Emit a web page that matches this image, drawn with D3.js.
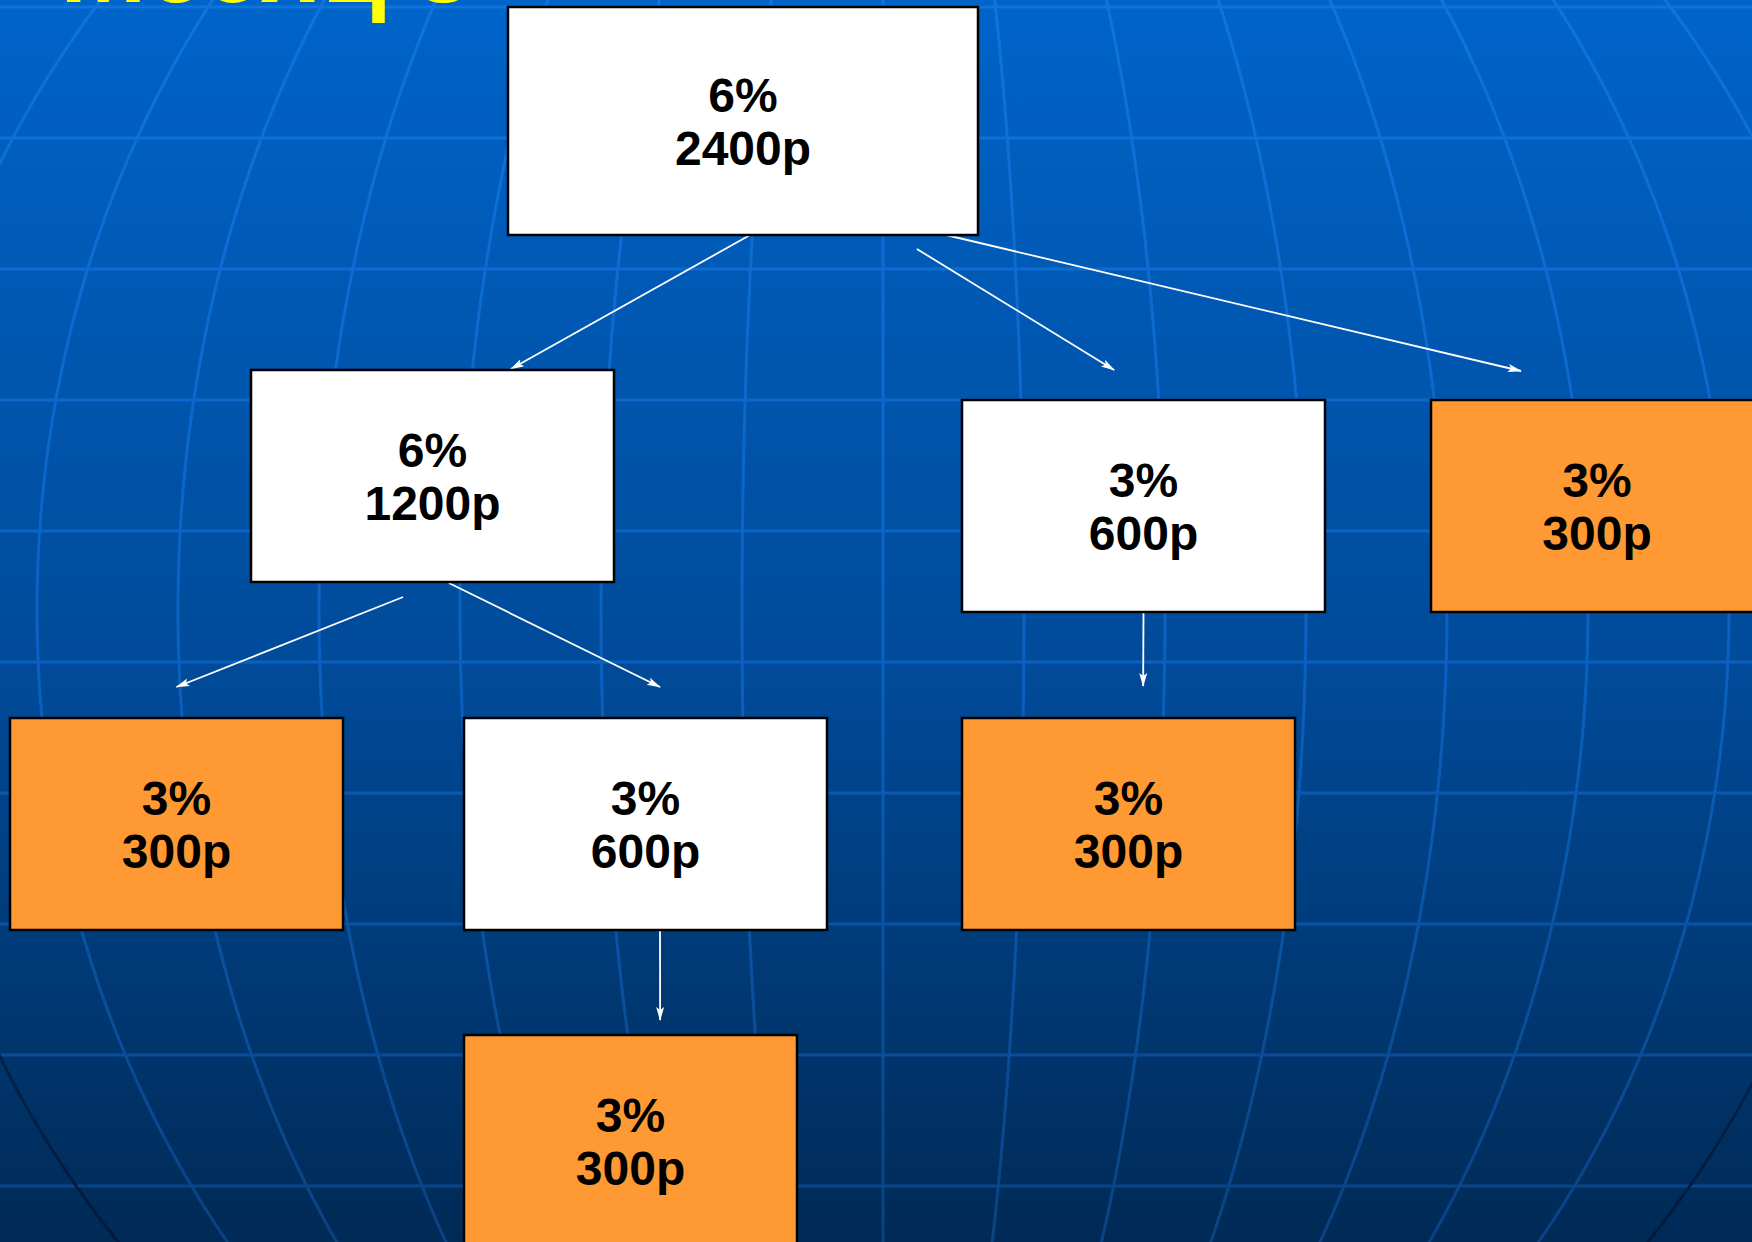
<!DOCTYPE html>
<html>
<head>
<meta charset="utf-8">
<script src="https://cdn.jsdelivr.net/npm/d3@7"></script>
<style>
  html, body { margin: 0; padding: 0; background: #003a78; overflow: hidden; }
  svg { display: block; }
</style>
</head>
<body>
<div class="graph"></div>
<script>
// tree data: one entry per box
var title = "Месяц 3";
var percents = ["6%", "6%", "3%", "3%", "3%", "3%", "3%", "3%"];
var amounts  = ["2400р", "1200р", "600р", "300р", "300р", "600р", "300р", "300р"];
var parents  = [null, 0, 0, 0, 1, 1, 2, 5];

// background grid
var gridRows = [0, 1, 2, 3, 4, 5, 6, 7, 8, 9];
var meridians = [-6, -5, -4, -3, -2, -1, 0, 1, 2, 3, 4, 5, 6];
var edgeMeridians = [-7, 7];

var svgWidth = 1752, svgHeight = 1242;

// layout of each box (x, y in px)
var layout = [
    {x: 508,  y: 7,    w: 470, h: 228},
    {x: 251,  y: 370,  w: 363, h: 212},
    {x: 962,  y: 400,  w: 363, h: 212},
    {x: 1431, y: 400,  w: 400, h: 212},
    {x: 10,   y: 718,  w: 333, h: 212},
    {x: 464,  y: 718,  w: 363, h: 212},
    {x: 962,  y: 718,  w: 333, h: 212},
    {x: 464,  y: 1035, w: 333, h: 212}
];
// where each arrow leaves its parent and stops above the child
var arrowGeom = {
    1: {sfx: 0.515, sdy: 0,  tfx: 0.716, tdy: -1},
    2: {sfx: 0.870, sdy: 14, tfx: 0.419, tdy: -30},
    3: {sfx: 0.932, sdy: 0,  tfx: 0.270, tdy: -29},
    4: {sfx: 0.419, sdy: 15, tfx: 0.500, tdy: -31},
    5: {sfx: 0.545, sdy: 1,  tfx: 0.540, tdy: -31},
    6: {sfx: 0.500, sdy: 0,  tfx: 0.544, tdy: -32},
    7: {sfx: 0.540, sdy: 0,  tfx: 0.589, tdy: -15}
};

var color_white = "#ffffff", color_orange = "#ff9933", text_color = "#000000";

function addGradient(defs, id, stops) {
    var g = defs.append("linearGradient")
        .attr("id", id)
        .attr("gradientUnits", "userSpaceOnUse")
        .attr("x1", 0).attr("y1", 0).attr("x2", 0).attr("y2", svgHeight);
    stops.forEach(function (s) {
        g.append("stop").attr("offset", s[0]).attr("stop-color", s[1]);
    });
}

function createGraph() {
    var svg = d3.select("div.graph").append("svg")
        .attr("width", svgWidth)
        .attr("height", svgHeight);

    var defs = svg.append("defs");

    addGradient(defs, "bg", [["0%", "#0064c9"], ["55%", "#004a98"], ["100%", "#002a56"]]);
    addGradient(defs, "lineGrad", [["0%", "#0f74de"], ["55%", "#0a60c0"], ["100%", "#0a4283"]]);
    addGradient(defs, "edgeGrad", [["0%", "#0f74de"], ["25%", "#0c68cc"], ["60%", "#00407f"], ["80%", "#002650"], ["100%", "#001a3c"]]);

    defs.append("marker")
        .attr("id", "arrow")
        .attr("markerUnits", "userSpaceOnUse")
        .attr("viewBox", "0 -5 14 10")
        .attr("refX", 13)
        .attr("refY", 0)
        .attr("markerWidth", 14)
        .attr("markerHeight", 10)
        .attr("orient", "auto")
        .append("path")
        .attr("d", "M0,-4L14,0L0,4L3,0Z")
        .attr("fill", "#ffffff");

    svg.append("rect")
        .attr("width", svgWidth)
        .attr("height", svgHeight)
        .attr("fill", "url(#bg)");

    // globe grid: straight parallels, curved meridians
    var yRow = d3.scaleLinear().domain([0, 9]).range([7, 1186]);
    var cx = 883, cy = 610, radius = 1000, step = 141;

    var grid = svg.append("g")
        .attr("fill", "none")
        .attr("stroke-width", 3);

    grid.selectAll("line.row")
        .data(gridRows)
        .enter().append("line")
        .attr("class", "row")
        .attr("stroke", "url(#lineGrad)")
        .attr("x1", 0).attr("x2", svgWidth)
        .attr("y1", function (d) { return yRow(d); })
        .attr("y2", function (d) { return yRow(d); });

    var ys = d3.range(-10, svgHeight + 11, 6);
    var meridianLine = d3.line()
        .x(function (d) { return d.x; })
        .y(function (d) { return d.y; })
        .curve(d3.curveBasis);

    function meridianPath(k) {
        return meridianLine(ys.map(function (y) {
            var t = (y - cy) / radius;
            return {x: cx + k * step * Math.sqrt(1 - t * t), y: y};
        }));
    }

    grid.selectAll("path.meridian")
        .data(meridians)
        .enter().append("path")
        .attr("class", "meridian")
        .attr("stroke", "url(#lineGrad)")
        .attr("d", meridianPath);

    grid.selectAll("path.edge")
        .data(edgeMeridians)
        .enter().append("path")
        .attr("class", "edge")
        .attr("stroke", "url(#edgeGrad)")
        .attr("d", meridianPath);

    // title, mostly cut off at the top edge
    svg.append("text")
        .attr("x", 60)
        .attr("y", 2)
        .attr("font-family", "'Liberation Sans', Arial, sans-serif")
        .attr("font-weight", "bold")
        .attr("font-size", 104)
        .attr("fill", "#ffff00")
        .text(title);

    var nodes = percents.map(function (p, i) {
        var kids = parents.filter(function (q) { return q === i; }).length;
        return {id: i, pct: p, amount: amounts[i], parent: parents[i], leaf: kids === 0};
    });

    // arrows
    svg.append("g")
        .selectAll("line.arrow")
        .data(nodes.filter(function (d) { return d.parent !== null; }))
        .enter().append("line")
        .attr("class", "arrow")
        .attr("stroke", "#ffffff")
        .attr("stroke-width", 1.8)
        .attr("marker-end", "url(#arrow)")
        .attr("x1", function (d) { var s = layout[d.parent]; return s.x + arrowGeom[d.id].sfx * s.w; })
        .attr("y1", function (d) { var s = layout[d.parent]; return s.y + s.h + arrowGeom[d.id].sdy; })
        .attr("x2", function (d) {
            var t = layout[d.id];
            var w = d.id === 3 ? 333 : t.w;
            return t.x + arrowGeom[d.id].tfx * w;
        })
        .attr("y2", function (d) { return layout[d.id].y + arrowGeom[d.id].tdy; });

    // boxes
    var box = svg.append("g")
        .selectAll("g.box")
        .data(nodes)
        .enter().append("g")
        .attr("class", "box")
        .attr("transform", function (d) {
            return "translate(" + layout[d.id].x + "," + layout[d.id].y + ")";
        });

    box.append("rect")
        .attr("width", function (d) { return layout[d.id].w; })
        .attr("height", function (d) { return layout[d.id].h; })
        .attr("fill", function (d) { return d.leaf ? color_orange : color_white; })
        .attr("stroke", "#000000")
        .attr("stroke-width", 2.5);

    var label = box.append("text")
        .attr("text-anchor", "middle")
        .attr("font-family", "'Liberation Sans', Arial, sans-serif")
        .attr("font-weight", "bold")
        .attr("font-size", 48)
        .attr("fill", text_color);

    label.append("tspan")
        .attr("x", function (d) { return d.id === 3 ? 166 : layout[d.id].w / 2; })
        .attr("y", function (d) { return layout[d.id].h / 2 - 9; })
        .text(function (d) { return d.pct; });

    label.append("tspan")
        .attr("x", function (d) { return d.id === 3 ? 166 : layout[d.id].w / 2; })
        .attr("y", function (d) { return layout[d.id].h / 2 + 44; })
        .text(function (d) { return d.amount; });
}

createGraph();
</script>
</body>
</html>
